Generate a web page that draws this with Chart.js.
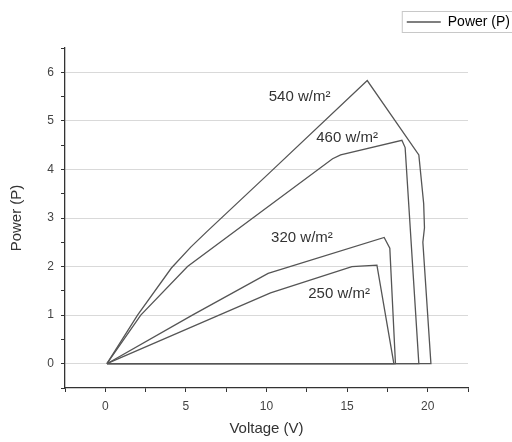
<!DOCTYPE html>
<html>
<head>
<meta charset="utf-8">
<script src="https://cdn.jsdelivr.net/npm/chart.js@4.4.1/dist/chart.umd.min.js"></script>
<style>
  html, body { margin: 0; padding: 0; background: #fff; }
  #wrap { width: 512px; height: 442px; }
</style>
</head>
<body>
<div id="wrap"><canvas id="pvChart"></canvas></div>
<script>
// P-V curves, one pair of arrays per irradiance
const v540 = [0.1, 2.0, 4.1, 5.3, 6.3, 10.25, 16.25, 19.45, 19.75, 19.8, 19.7, 20.2, 0.1];
const p540 = [0, 1.0, 1.97, 2.4, 2.72, 3.95, 5.83, 4.3, 3.3, 2.8, 2.5, 0, 0];

const v460 = [0.1, 2.2, 5.1, 14.1, 14.6, 18.4, 18.6, 19.45, 0.1];
const p460 = [0, 1.0, 2.0, 4.22, 4.3, 4.6, 4.45, 0, 0];

const v320 = [0.1, 5.4, 10.1, 17.3, 17.65, 18.0, 0.1];
const p320 = [0, 1.0, 1.86, 2.6, 2.38, 0, 0];

const v250 = [0.1, 10.25, 15.3, 16.85, 17.9, 0.1];
const p250 = [0, 1.46, 2.0, 2.03, 0, 0];

const curveNames = ['540 w/m²', '460 w/m²', '320 w/m²', '250 w/m²'];
// where each curve name sits, in axis units
const labelX = [12.05, 15.0, 12.2, 14.5];
const labelY = [5.5, 4.65, 2.6, 1.43];

const xLabelTicks = [0, 5, 10, 15, 20];
const yLabelTicks = [0, 1, 2, 3, 4, 5, 6];

const lineColor = '#555';
const fontFamily = '"Liberation Sans", Arial, sans-serif';

function toPoints(xs, ys) {
    return xs.map((x, i) => ({ x: x, y: ys[i] }));
}

const curves = [[v540, p540], [v460, p460], [v320, p320], [v250, p250]];

const curveLabels = {
    id: 'curveLabels',
    afterDatasetsDraw(chart) {
        const ctx = chart.ctx;
        const xs = chart.scales.x, ys = chart.scales.y;
        ctx.save();
        ctx.font = '15px ' + fontFamily;
        ctx.fillStyle = '#333';
        ctx.textAlign = 'center';
        ctx.textBaseline = 'middle';
        curveNames.forEach((name, i) => {
            ctx.fillText(name, xs.getPixelForValue(labelX[i]), ys.getPixelForValue(labelY[i]));
        });
        ctx.restore();
    }
};

const legendFrame = {
    id: 'legendFrame',
    afterDraw(chart) {
        const box = chart.legend.legendHitBoxes[0];
        if (!box) return;
        const ctx = chart.ctx;
        ctx.save();
        ctx.strokeStyle = '#c8c8c8';
        ctx.lineWidth = 1;
        ctx.strokeRect(box.left - 4.5, box.top - 3.5, box.width + 20, box.height + 7);
        ctx.restore();
    }
};

// empty axes that only hold space, so the plot box sits where it does in the picture
const spacer = size => ({
    display: true,
    afterFit: s => { if (s.isHorizontal()) s.height = size; else s.width = size; },
    ticks: { display: false },
    grid: { display: false },
    border: { display: false }
});

new Chart(document.getElementById('pvChart'), {
    type: 'scatter',
    data: {
        datasets: curves.map((c, i) => ({
            label: curveNames[i],
            data: toPoints(c[0], c[1]),
            showLine: true,
            borderColor: lineColor,
            borderWidth: 1.3,
            pointRadius: 0,
            tension: 0
        }))
    },
    options: {
        responsive: true,
        maintainAspectRatio: false,
        animation: false,
        layout: { padding: { top: 13, right: 0, left: 6, bottom: 0 } },
        scales: {
            x: {
                type: 'linear',
                min: -2.5,
                max: 22.5,
                afterFit: s => { s.height = 54; },
                ticks: {
                    stepSize: 2.5,
                    autoSkip: false,
                    maxRotation: 0,
                    padding: 7,
                    color: '#444',
                    font: { size: 12, family: fontFamily },
                    callback: v => xLabelTicks.includes(v) ? v : ''
                },
                grid: {
                    drawOnChartArea: false,
                    tickLength: 4,
                    tickColor: '#333'
                },
                border: { color: '#333', width: 1.3 },
                title: {
                    display: true,
                    text: 'Voltage (V)',
                    color: '#333',
                    padding: { top: 2, bottom: 4 },
                    font: { size: 15, family: fontFamily }
                }
            },
            y: {
                min: -0.5,
                max: 6.5,
                afterFit: s => { s.width = 59; },
                ticks: {
                    stepSize: 0.5,
                    autoSkip: false,
                    padding: 7,
                    color: '#444',
                    font: { size: 12, family: fontFamily },
                    callback: v => yLabelTicks.includes(v) ? v : ''
                },
                grid: {
                    color: c => yLabelTicks.includes(c.tick.value) ? '#d9d9d9' : 'rgba(0,0,0,0)',
                    tickColor: '#333',
                    tickLength: 4
                },
                border: { color: '#333', width: 1.3 },
                title: {
                    display: true,
                    text: 'Power (P)',
                    color: '#333',
                    padding: { top: 2, bottom: 4 },
                    font: { size: 15, family: fontFamily }
                }
            },
            padRight: Object.assign({ position: 'right', axis: 'y' }, spacer(44)),
            padTop: Object.assign({ position: 'top', axis: 'x' }, spacer(9))
        },
        plugins: {
            tooltip: { enabled: false },
            legend: {
                position: 'top',
                align: 'end',
                labels: {
                    usePointStyle: true,
                    pointStyleWidth: 34,
                    color: '#333',
                    font: { size: 14, family: fontFamily },
                    padding: 2,
                    generateLabels: () => [{
                        text: 'Power (P)',
                        strokeStyle: lineColor,
                        fillStyle: lineColor,
                        lineWidth: 1.3,
                        pointStyle: 'line',
                        datasetIndex: 0
                    }]
                }
            }
        }
    },
    plugins: [curveLabels, legendFrame]
});
</script>
</body>
</html>
